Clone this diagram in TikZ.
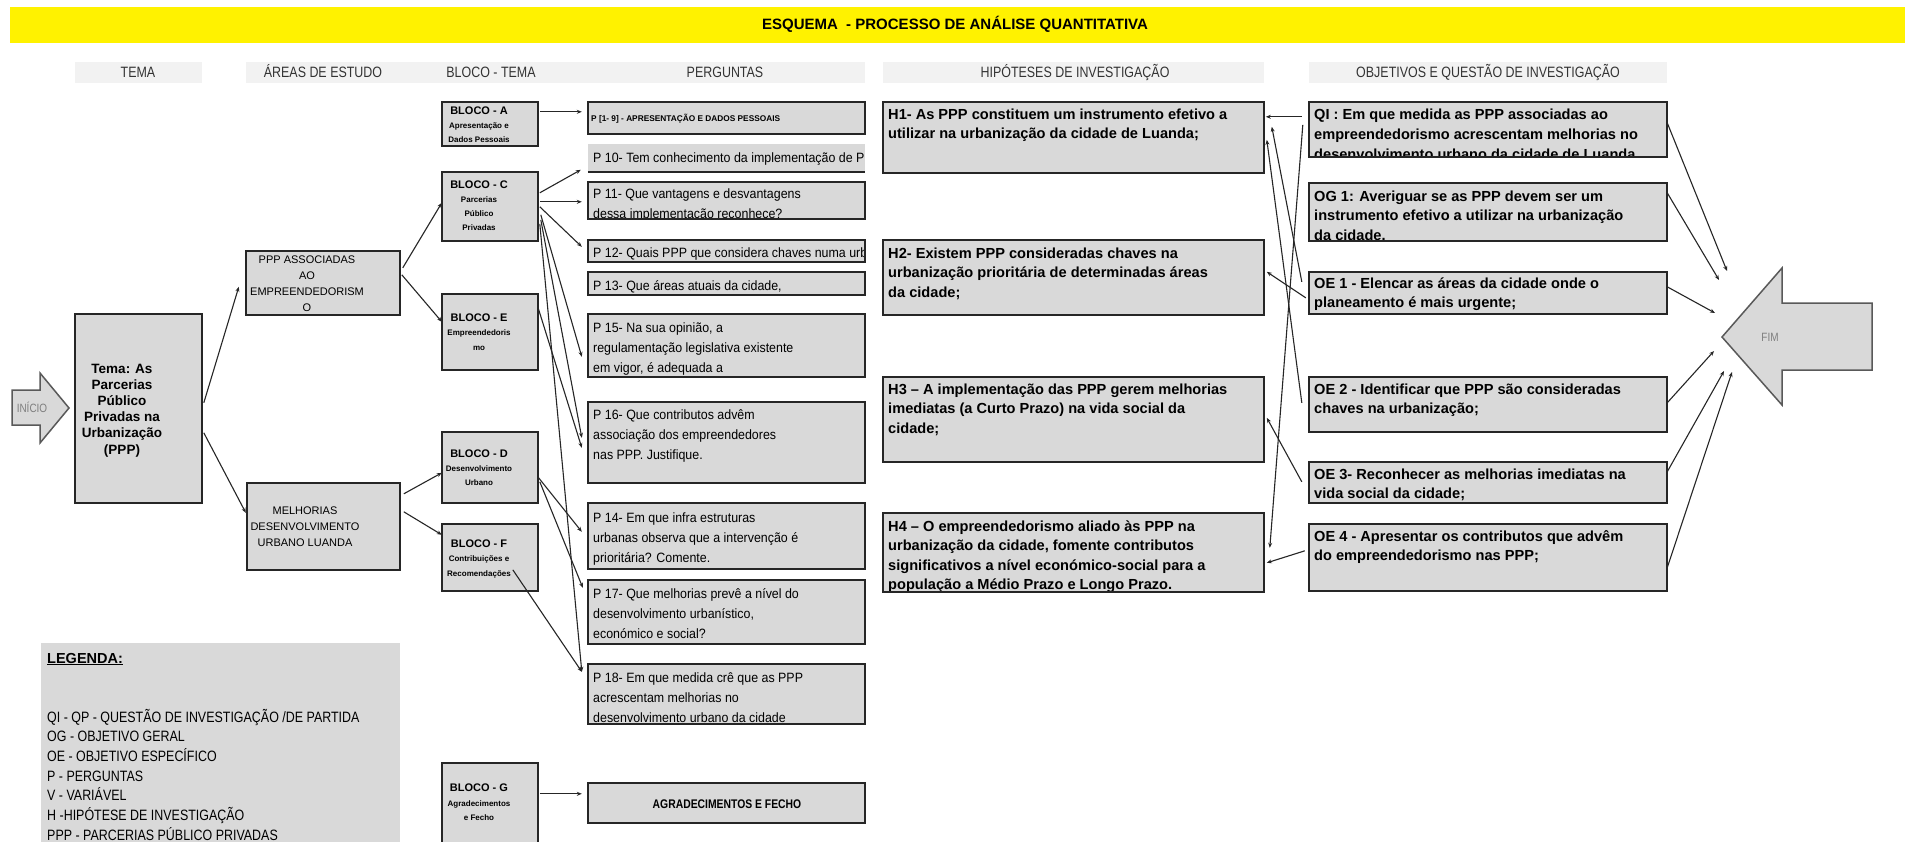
\documentclass[tikz,border=0pt]{standalone}
\usepackage{fontspec}
\setmainfont{Liberation Sans}
\newfontfamily\nar[FakeStretch=0.83]{Liberation Sans}
\newfontfamily\narq[FakeStretch=0.92]{Liberation Sans}
\usetikzlibrary{fit,calc,arrows.meta}
\definecolor{boxgray}{HTML}{D9D9D9}
\definecolor{hdrgray}{HTML}{F2F2F2}
\definecolor{lin}{HTML}{262626}
\definecolor{arrgray}{HTML}{595959}
\definecolor{txtgray}{HTML}{7F7F7F}
\tikzset{
 boxline/.style={draw=lin,line width=1.8pt},
 conn/.style={draw=lin,line width=1.1pt,-{Stealth[length=5pt,width=4pt]}},
 hdrbox/.style={fill=hdrgray},
 hdr/.style={font=\nar\fontsize{15}{18}\selectfont,text=black!80},
 ptx/.style={font=\narq\fontsize{13.5}{16}\selectfont},
 btx/.style={font=\bfseries\fontsize{14.6}{17}\selectfont},
 blk/.style={font=\bfseries\fontsize{11}{13}\selectfont},
 blks/.style={font=\bfseries\fontsize{8}{10}\selectfont},
 tema/.style={font=\bfseries\fontsize{13.5}{16}\selectfont},
 area/.style={font=\fontsize{11}{13}\selectfont},
 leg/.style={font=\nar\fontsize{15}{18}\selectfont},
 bigarrow/.style={fill=boxgray,draw=arrgray,line width=1.5pt},
 arrtx/.style={font=\nar\fontsize{12}{14}\selectfont,text=txtgray},
}
\newcommand\mkbox[5]{\node[fit={(#2,#3) (#4,#5)},inner sep=0pt,fill=boxgray] (#1) {};}
\newcommand\bord[1]{\draw[boxline] (#1.south west) rectangle (#1.north east);}
\newcommand\lns[7]{\foreach \t [count=\i from 0] in {#7}{\node[#6,anchor=#2,inner sep=0pt] (#1\i) at (#3,{#4+\i*#5}) {\t};}}
\newcommand\clipto[1]{\clip (#1.south west) rectangle (#1.north east);}
\begin{document}
\begin{tikzpicture}[x=1pt,y=-1pt]
\useasboundingbox (0,0) rectangle (1905,841);
\fill[white] (0,0) rectangle (1905,841);
% title
\node[fit={(10,7) (1905,43)},inner sep=0pt,fill=yellow] (title) {};
\node[font=\bfseries\fontsize{15}{18}\selectfont,anchor=base,inner sep=0pt] (titlet) at (955,29) {ESQUEMA\ \ - PROCESSO DE ANÁLISE QUANTITATIVA};
% headers
\node[fit={(75,62) (202,83)},inner sep=0pt,hdrbox] (hb1) {};
\node[fit={(246,62) (865,83)},inner sep=0pt,hdrbox] (hb2) {};
\node[fit={(883,62) (1264,83)},inner sep=0pt,hdrbox] (hb3) {};
\node[fit={(1309,62) (1667,83)},inner sep=0pt,hdrbox] (hb4) {};
\node[hdr,anchor=base,inner sep=0pt] (ht1) at (138,77) {TEMA};
\node[hdr,anchor=base,inner sep=0pt] (ht2) at (323,77) {ÁREAS DE ESTUDO};
\node[hdr,anchor=base,inner sep=0pt] (ht3) at (491,77) {BLOCO - TEMA};
\node[hdr,anchor=base,inner sep=0pt] (ht4) at (725,77) {PERGUNTAS};
\node[hdr,anchor=base,inner sep=0pt] (ht5) at (1075,77) {HIPÓTESES DE INVESTIGAÇÃO};
\node[hdr,anchor=base,inner sep=0pt] (ht6) at (1488,77) {OBJETIVOS E QUESTÃO DE INVESTIGAÇÃO};
% start / end arrows
\draw[bigarrow] (12,390) -- (40,390) -- (40,373) -- (69,408) -- (40,443) -- (40,425) -- (12,425) -- cycle;
\node[arrtx,anchor=base,inner sep=0pt] (ini) at (32,412) {INÍCIO};
\draw[bigarrow] (1872,303) -- (1782,303) -- (1782,268) -- (1722,337) -- (1782,405) -- (1782,370) -- (1872,370) -- cycle;
\node[arrtx,anchor=base,inner sep=0pt] (fim) at (1770,341) {FIM};
\coordinate (fimc) at (1770,337);
% tema
\mkbox{T}{75}{314}{202}{503}\bord{T}
\lns{Tt}{base}{122}{373}{16.2}{tema}{{Tema: As},{Parcerias},{Público},{Privadas na},{Urbanização},{(PPP)}}
% areas
\mkbox{PA}{246}{251}{400}{315}\bord{PA}
\lns{PAt}{base}{307}{263}{16.3}{area}{{PPP ASSOCIADAS},{AO},{EMPREENDEDORISM},{O}}
\mkbox{MD}{247}{483}{400}{570}\bord{MD}
\lns{MDt}{base}{305}{514}{16}{area}{{MELHORIAS},{DESENVOLVIMENTO},{URBANO LUANDA}}
% blocks
\mkbox{BA}{442}{102}{538}{146}\bord{BA}
\node[blk,anchor=base,inner sep=0pt] (BAt) at (479,114) {BLOCO - A};
\lns{BAs}{base}{479}{128}{14}{blks}{{Apresentação e},{Dados Pessoais}}
\mkbox{BC}{442}{172}{538}{241}\bord{BC}
\node[blk,anchor=base,inner sep=0pt] (BCt) at (479,188) {BLOCO - C};
\lns{BCs}{base}{479}{202}{14.3}{blks}{{Parcerias},{Público},{Privadas}}
\mkbox{BE}{442}{294}{538}{370}\bord{BE}
\node[blk,anchor=base,inner sep=0pt] (BEt) at (479,321) {BLOCO - E};
\lns{BEs}{base}{479}{335}{15}{blks}{{Empreendedoris},{mo}}
\mkbox{BD}{442}{432}{538}{503}\bord{BD}
\node[blk,anchor=base,inner sep=0pt] (BDt) at (479,457) {BLOCO - D};
\lns{BDs}{base}{479}{471}{14}{blks}{{Desenvolvimento},{Urbano}}
\mkbox{BF}{442}{524}{538}{591}\bord{BF}
\node[blk,anchor=base,inner sep=0pt] (BFt) at (479,547) {BLOCO - F};
\lns{BFs}{base}{479}{561}{15}{blks}{{Contribuições e},{Recomendações}}
\mkbox{BG}{442}{763}{538}{850}\bord{BG}
\node[blk,anchor=base,inner sep=0pt] (BGt) at (479,791) {BLOCO - G};
\lns{BGs}{base}{479}{806}{14}{blks}{{Agradecimentos},{e Fecho}}
% questions
\mkbox{Q19}{588}{102}{865}{134}\bord{Q19}
\node[font=\bfseries\fontsize{8.3}{10}\selectfont,anchor=base west,inner sep=0pt] (Q19t) at (591,121) {P [1- 9] - APRESENTAÇÃO E DADOS PESSOAIS};
\mkbox{Q10}{588}{144}{865}{172}
\begin{scope}\clipto{Q10}\node[ptx,anchor=base west,inner sep=0pt] (Q10t) at (593,162) {P 10- Tem conhecimento da implementação de P};\end{scope}
\draw[boxline] (Q10.south west) -- (Q10.south east);
\mkbox{Q11}{588}{182}{865}{219}
\begin{scope}\clipto{Q11}\lns{Q11t}{base west}{593}{198}{20}{ptx}{{P 11- Que vantagens e desvantagens},{dessa implementação reconhece?}}\end{scope}
\bord{Q11}
\mkbox{Q12}{588}{240}{865}{262}
\begin{scope}\clipto{Q12}\node[ptx,anchor=base west,inner sep=0pt] (Q12t) at (593,257) {P 12- Quais PPP que considera chaves numa urba};\end{scope}
\bord{Q12}
\mkbox{Q13}{588}{272}{865}{295}\bord{Q13}
\node[ptx,anchor=base west,inner sep=0pt] (Q13t) at (593,290) {P 13- Que áreas atuais da cidade,};
\mkbox{Q15}{588}{314}{865}{377}\bord{Q15}
\lns{Q15t}{base west}{593}{332}{20}{ptx}{{P 15- Na sua opinião, a},{regulamentação legislativa existente},{em vigor, é adequada a}}
\mkbox{Q16}{588}{402}{865}{483}\bord{Q16}
\lns{Q16t}{base west}{593}{419}{20}{ptx}{{P 16- Que contributos advêm},{associação dos empreendedores},{nas PPP. Justifique.}}
\mkbox{Q14}{588}{503}{865}{569}\bord{Q14}
\lns{Q14t}{base west}{593}{522}{20}{ptx}{{P 14- Em que infra estruturas},{urbanas observa que a intervenção é},{prioritária? Comente.}}
\mkbox{Q17}{588}{580}{865}{644}\bord{Q17}
\lns{Q17t}{base west}{593}{598}{20}{ptx}{{P 17- Que melhorias prevê a nível do},{desenvolvimento urbanístico,},{económico e social?}}
\mkbox{Q18}{588}{664}{865}{724}
\begin{scope}\clipto{Q18}\lns{Q18t}{base west}{593}{682}{20}{ptx}{{P 18- Em que medida crê que as PPP},{acrescentam melhorias no},{desenvolvimento urbano da cidade}}\end{scope}
\bord{Q18}
\mkbox{QAG}{588}{783}{865}{823}\bord{QAG}
\node[font=\nar\bfseries\fontsize{12.5}{15}\selectfont,anchor=base,inner sep=0pt] (QAGt) at (727,808) {AGRADECIMENTOS E FECHO};
% hypotheses
\mkbox{H1}{883}{102}{1264}{173}\bord{H1}
\lns{H1t}{base west}{888}{119}{19.8}{btx}{{H1- As PPP constituem um instrumento efetivo a},{utilizar na urbanização da cidade de Luanda;}}
\mkbox{H2}{883}{240}{1264}{315}\bord{H2}
\lns{H2t}{base west}{888}{258}{19.7}{btx}{{H2- Existem PPP consideradas chaves na},{urbanização prioritária de determinadas áreas},{da cidade;}}
\mkbox{H3}{883}{377}{1264}{462}\bord{H3}
\lns{H3t}{base west}{888}{394}{19.7}{btx}{{H3 – A implementação das PPP gerem melhorias},{imediatas (a Curto Prazo) na vida social da},{cidade;}}
\mkbox{H4}{883}{513}{1264}{592}
\begin{scope}\clipto{H4}\lns{H4t}{base west}{888}{531}{19.6}{btx}{{H4 – O empreendedorismo aliado às PPP na},{urbanização da cidade, fomente contributos},{significativos a nível económico-social para a},{população a Médio Prazo e Longo Prazo.}}\end{scope}
\bord{H4}
% objectives
\mkbox{QI}{1309}{102}{1667}{157}
\begin{scope}\clipto{QI}\lns{QIt}{base west}{1314}{119}{20}{btx}{{QI : Em que medida as PPP associadas ao},{empreendedorismo acrescentam melhorias no},{desenvolvimento urbano da cidade de Luanda}}\end{scope}
\bord{QI}
\mkbox{OG}{1309}{183}{1667}{241}
\begin{scope}\clipto{OG}\lns{OGt}{base west}{1314}{201}{19.8}{btx}{{OG 1: Averiguar se as PPP devem ser um},{instrumento efetivo a utilizar na urbanização},{da cidade.}}\end{scope}
\bord{OG}
\mkbox{OE1}{1309}{272}{1667}{314}\bord{OE1}
\lns{OE1t}{base west}{1314}{288}{19.5}{btx}{{OE 1 - Elencar as áreas da cidade onde o},{planeamento é mais urgente;}}
\mkbox{OE2}{1309}{377}{1667}{432}\bord{OE2}
\lns{OE2t}{base west}{1314}{394}{19.5}{btx}{{OE 2 - Identificar que PPP são consideradas},{chaves na urbanização;}}
\mkbox{OE3}{1309}{462}{1667}{503}\bord{OE3}
\lns{OE3t}{base west}{1314}{479}{19.5}{btx}{{OE 3- Reconhecer as melhorias imediatas na},{vida social da cidade;}}
\mkbox{OE4}{1309}{524}{1667}{591}\bord{OE4}
\lns{OE4t}{base west}{1314}{541}{19.5}{btx}{{OE 4 - Apresentar os contributos que advêm},{do empreendedorismo nas PPP;}}
% legend
\node[fit={(41,643) (400,850)},inner sep=0pt,fill=boxgray] (LG) {};
\node[font=\bfseries\fontsize{14.5}{17}\selectfont,anchor=base west,inner sep=0pt] (LGt) at (47,663) {\underline{LEGENDA:}};
\lns{LGl}{base west}{47}{722}{19.7}{leg}{{QI - QP - QUESTÃO DE INVESTIGAÇÃO /DE PARTIDA},{OG - OBJETIVO GERAL},{OE - OBJETIVO ESPECÍFICO},{P - PERGUNTAS},{V - VARIÁVEL},{H -HIPÓTESE DE INVESTIGAÇÃO},{PPP - PARCERIAS PÚBLICO PRIVADAS}}
% connectors left part
\draw[conn] ($(T.north west)+(129,89)$) -- ($(PA.north west)+(-7,36)$);
\draw[conn] ($(T.north west)+(129,119)$) -- ($(MD.north west)+(-1,30)$);
\draw[conn] ($(PA.north west)+(157,17)$) -- ($(BC.north west)+(0,31)$);
\draw[conn] ($(PA.north west)+(156,24)$) -- ($(BE.north west)+(0,28)$);
\draw[conn] ($(MD.north west)+(157,11)$) -- ($(BD.north west)+(0,41)$);
\draw[conn] ($(MD.north west)+(157,29)$) -- ($(BF.north west)+(0,11)$);
\draw[conn] ($(BA.north west)+(98,10)$) -- ($(Q19.north west)+(-6,10)$);
\draw[conn] ($(BC.north west)+(98,21)$) -- ($(Q10.north west)+(-7,26)$);
\draw[conn] ($(BC.north west)+(98,30)$) -- ($(Q11.north west)+(-6,20)$);
\draw[conn] ($(BC.north west)+(98,35)$) -- ($(Q12.north west)+(-6,7)$);
\draw[conn] ($(BC.north west)+(99,43)$) -- ($(Q15.north west)+(-6,43)$);
\draw[conn] ($(BC.north west)+(99,48)$) -- ($(Q16.north west)+(-6,36)$);
\draw[conn] ($(BE.north west)+(96,13)$) -- ($(Q16.north west)+(-6,46)$);
\draw[conn] ($(BC.north west)+(98,52)$) -- ($(Q18.north west)+(-6,8)$);
\draw[conn] ($(BD.north west)+(96,45)$) -- ($(Q14.north west)+(-6,29)$);
\draw[conn] ($(BD.north west)+(98,50)$) -- ($(Q17.north west)+(-5,8)$);
\draw[conn] ($(BF.north west)+(71,46)$) -- ($(Q18.north west)+(-6,8)$);
\draw[conn] ($(BG.north west)+(98,31)$) -- ($(QAG.north west)+(-6,11)$);
% connectors objectives -> hypotheses
\draw[conn] ($(QI.north west)+(-7,15)$) -- ($(H1.north west)+(383,15)$);
\draw[conn] ($(QI.north west)+(-6,23)$) -- ($(H4.north west)+(387,35)$);
\draw[conn] ($(OE1.north west)+(-7,10)$) -- ($(H1.north west)+(389,25)$);
\draw[conn] ($(OE2.north west)+(-7,26)$) -- ($(H1.north west)+(384,38)$);
\draw[conn] ($(OE1.north west)+(-3,26)$) -- ($(H2.north west)+(384,32)$);
\draw[conn] ($(OE3.north west)+(-7,20)$) -- ($(H3.north west)+(384,41)$);
\draw[conn] ($(OE4.north west)+(-4,27)$) -- ($(H4.north west)+(384,50)$);
% connectors objectives -> FIM
\draw[conn] ($(QI.north east)+(0,21)$) -- ($(fimc)+(-43,-66)$);
\draw[conn] ($(OG.north east)+(0,10)$) -- ($(fimc)+(-51,-57)$);
\draw[conn] ($(OE1.north east)+(0,15)$) -- ($(fimc)+(-55,-24)$);
\draw[conn] ($(OE2.north east)+(0,26)$) -- ($(fimc)+(-56,14)$);
\draw[conn] ($(OE3.north east)+(0,10)$) -- ($(fimc)+(-46,34)$);
\draw[conn] ($(OE4.north east)+(0,44)$) -- ($(fimc)+(-38,35)$);
\end{tikzpicture}
\end{document}
